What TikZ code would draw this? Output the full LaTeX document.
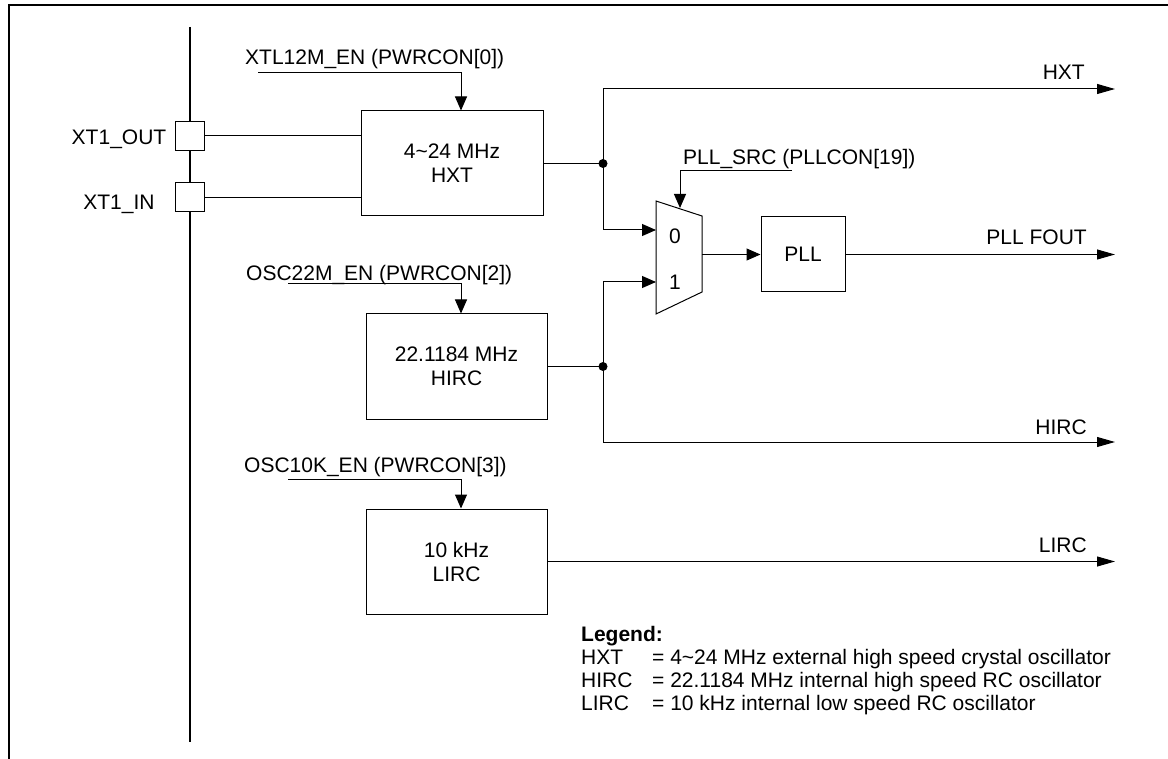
\documentclass[tikz,border=0pt]{standalone}
\usepackage{fontspec}
\setmainfont{Liberation Sans}
\usetikzlibrary{arrows.meta}

\begin{document}
\begin{tikzpicture}[x=1pt,y=-1pt,
  txt/.style={font=\fontsize{21pt}{24pt}\selectfont,inner sep=0pt},
  oscbox/.style={txt,draw,line width=1pt,align=center,minimum width=182pt,minimum height=105pt},
  pad/.style={draw,fill=white,line width=1pt,minimum size=29pt,inner sep=0pt},
  wire/.style={line width=1pt},
  arr/.style={wire,-{Triangle[length=14pt,width=12pt]}},
  outarr/.style={wire,-{Triangle[length=18pt,width=10pt]}}]
\useasboundingbox (0,0) rectangle (1168,759);
\draw[line width=2.5pt] (9,759) -- (9,5) -- (1168,5); % frame

% pins
\draw[line width=2pt] (190,27) -- (190,742);
\node[pad] (xout) at (189.5,136) {};
\node[pad] (xin) at (189.5,197.5) {};
\node[txt,anchor=base] (xoutl) at (119,144.5) {XT1\_OUT};
\node[txt,anchor=base] (xinl) at (119,209.5) {XT1\_IN};

% oscillators
\node[oscbox] (hxt) at (452,163.5) {4\textasciitilde24 MHz\\HXT};
\node[oscbox,minimum width=181pt] (hirc) at (456.5,366.5) {22.1184 MHz\\HIRC};
\node[oscbox,minimum width=181pt] (lirc) at (456.5,561.5) {10 kHz\\LIRC};
\node[txt,draw,line width=1pt,minimum width=84pt,minimum height=75pt] (pll) at (803,254.5) {PLL};

\draw[wire] (xout.east) -- (xout.east -| hxt.west);
\draw[wire] (xin.east) -- (xin.east -| hxt.west);

% enable signals
\node[txt,anchor=base west] (xtlenl) at (245,64.5) {XTL12M\_EN (PWRCON[0])};
\node[txt,anchor=base west] (osc22l) at (246,280.5) {OSC22M\_EN (PWRCON[2])};
\node[txt,anchor=base west] (osc10l) at (244,472.5) {OSC10K\_EN (PWRCON[3])};
\coordinate (xtlen) at (258,73);
\coordinate (osc22) at (288,284);
\coordinate (osc10) at (288,479);
\foreach \s/\b/\dx in {xtlen/hxt/9,osc22/hirc/4.5,osc10/lirc/4.5}
  \draw[arr] (\s) -| ([xshift=\dx pt]\b.north);

% mux
\coordinate (mux0) at (656,230);
\coordinate (mux1) at (656,282);
\coordinate (muxout) at (702,254.5);
\coordinate (muxsel) at (680,208);
\draw[wire] (656,201) -- (702,216) -- (702,292) -- (656,314) -- cycle;
\node[txt,anchor=base] (in0) at (675,243.5) {0};
\node[txt,anchor=base] (in1) at (675,289.5) {1};
\node[txt,anchor=base west] (pllsrcl) at (683,164.5) {PLL\_SRC (PLLCON[19])};
\coordinate (pllsrc) at (792,171);
\draw[arr] (pllsrc) -| (muxsel);
\draw[arr] (muxout) -- (pll.west);

% outputs
\coordinate (jhxt) at (603,163.5);
\coordinate (jhirc) at (603,366.5);
\coordinate (hxto) at (1115,89);
\coordinate (hirco) at (1115,442);
\draw[wire] (hxt.east) -- (jhxt);
\draw[wire] (hirc.east) -- (jhirc);
\fill (jhxt) circle (4.5);
\fill (jhirc) circle (4.5);
\draw[outarr] (jhxt) |- (hxto);
\draw[arr] (jhxt) |- (mux0);
\draw[arr] (jhirc) |- (mux1);
\draw[outarr] (jhirc) |- (hirco);
\draw[outarr] (pll.east) -- (pll.east -| hxto);
\draw[outarr] (lirc.east) -- (lirc.east -| hxto);
\node[txt,anchor=base east] (hxtl) at (1085,80) {HXT};
\node[txt,anchor=base east] (pllfl) at (1087,245) {PLL FOUT};
\node[txt,anchor=base east] (hircl) at (1087,434.5) {HIRC};
\node[txt,anchor=base east] (lircl) at (1087,552.5) {LIRC};

% legend
\node[txt,anchor=north west,align=left,font=\fontsize{21pt}{23pt}\selectfont] (legend) at (581,626) {\textbf{Legend:}\\
\makebox[71pt][l]{HXT}= 4\textasciitilde24 MHz external high speed crystal oscillator\\
\makebox[71pt][l]{HIRC}= 22.1184 MHz internal high speed RC oscillator\\
\makebox[71pt][l]{LIRC}= 10 kHz internal low speed RC oscillator};
\end{tikzpicture}
\end{document}
